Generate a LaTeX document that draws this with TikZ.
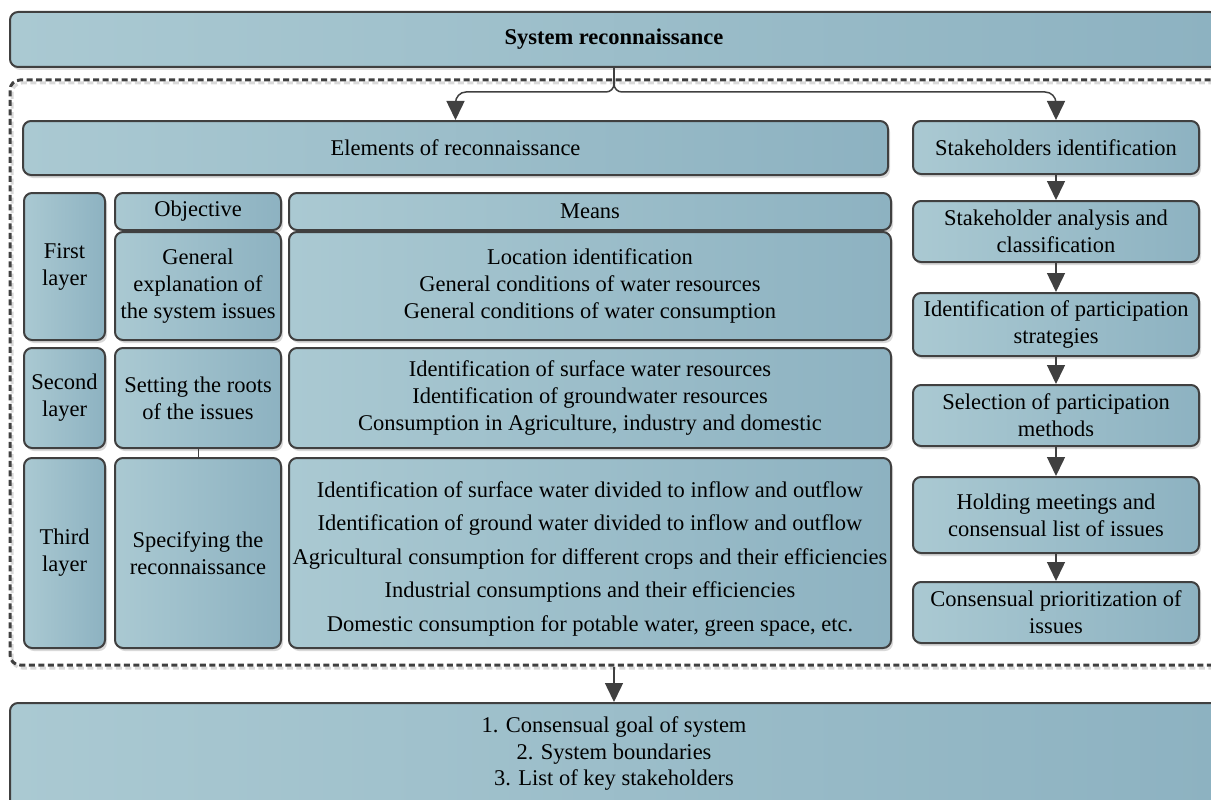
\documentclass[tikz,border=0pt]{standalone}
\usepackage{fontspec}
\setmainfont{Liberation Serif}
\usetikzlibrary{arrows.meta,shadows}
\definecolor{boxL}{RGB}{170,201,210}
\definecolor{boxR}{RGB}{141,178,193}
\definecolor{edgec}{RGB}{64,64,64}
\tikzset{
 box/.style={draw=edgec, line width=2pt, rounded corners=8pt, left color=boxL, right color=boxR,
   align=center, inner sep=0pt, font=\fontsize{22.5}{27}\selectfont,
   drop shadow={shadow xshift=2pt,shadow yshift=-3pt,fill=black!15,opacity=1}},
 arr/.style={draw=edgec, line width=1.5pt, -{Triangle[length=19pt,width=18pt]}},
 frm/.style={draw=edgec, line width=3pt, dash pattern=on 6pt off 3.5pt, rounded corners=10pt, inner sep=0pt},
 txt/.style={align=center, inner sep=0pt, font=\fontsize{22.5}{27}\selectfont},
}
\newcommand\bx[6]{\node[box, minimum width={(#4-#2)*1pt}, minimum height={(#5-#3)*1pt}] (#1) at ({(#2+#4)/2},{(#3+#5)/2}) {#6};}
\begin{document}
\begin{tikzpicture}[x=1pt,y=-1pt]
\useasboundingbox (0,0) rectangle (1211,800);
\clip (0,0) rectangle (1211,800);
% dashed frame with its shadow
\draw[black!15, line width=3pt, dash pattern=on 6pt off 3.5pt, rounded corners=10pt] (12,83) rectangle (1232,668);
\node[frm, minimum width=1220pt, minimum height=585pt] (frame) at (620,372.5) {};
\bx{top}{10}{12}{1218}{67}{\bfseries System reconnaissance}
\bx{elem}{23}{121}{888}{175}{Elements of reconnaissance}
\bx{s1}{913}{121}{1199}{174}{Stakeholders identification}
\bx{s2}{913}{201}{1199}{262}{Stakeholder analysis and\\classification}
\bx{s3}{913}{293}{1199}{356}{Identification of participation\\strategies}
\bx{s4}{913}{385}{1199}{446}{Selection of participation\\methods}
\bx{s5}{913}{477}{1199}{553}{Holding meetings and\\consensual list of issues}
\bx{s6}{913}{582}{1199}{643}{Consensual prioritization of\\issues}
\bx{l1}{24}{193}{105}{340}{First\\layer}
\bx{obj}{115}{193}{281}{230}{Objective}
\bx{means}{289}{193}{891}{230}{Means}
\bx{o1}{115}{232}{281}{340}{General\\explanation of\\the system issues}
\bx{m1}{289}{232}{891}{340}{Location identification\\General conditions of water resources\\General conditions of water consumption}
\bx{l2}{24}{348}{105}{448}{Second\\layer}
\bx{o2}{115}{348}{281}{448}{Setting the roots\\of the issues}
\bx{m2}{289}{348}{891}{448}{Identification of surface water resources\\Identification of groundwater resources\\Consumption in Agriculture, industry and domestic}
\bx{l3}{24}{458}{105}{648}{Third\\layer}
\bx{o3}{115}{458}{281}{648}{Specifying the\\reconnaissance}
\bx{m3}{289}{458}{891}{648}{}
\node[txt, font=\fontsize{22.5}{33.5}\selectfont] (m3t) at (590,559) {Identification of surface water divided to inflow and outflow\\Identification of ground water divided to inflow and outflow\\Agricultural consumption for different crops and their efficiencies\\Industrial consumptions and their efficiencies\\Domestic consumption for potable water, green space, etc.};
\bx{final}{10}{703}{1218}{830}{}
\node[txt, font=\fontsize{22.5}{26.5}\selectfont] (ftxt) at (614,754) {1. Consensual goal of system\\2. System boundaries\\3. List of key stakeholders};
% brace connector
\coordinate (split) at (614,84);
\draw[edgec, line width=1.5pt] (top.south) -- (split);
\draw[arr] (split) to[out=-90,in=0] (606,92) -- (466,92) to[out=180,in=90] (elem.north |- 0,103) -- (elem.north);
\draw[arr] (split) to[out=-90,in=180] (622,92) -- (1045,92) to[out=0,in=90] (s1.north |- 0,103) -- (s1.north);
% stakeholder chain
\draw[arr] (s1) -- (s2);
\draw[arr] (s2) -- (s3);
\draw[arr] (s3) -- (s4);
\draw[arr] (s4) -- (s5);
\draw[arr] (s5) -- (s6);
% link in objective column
\draw[edgec, line width=1pt] (o2.south) -- (o3.north);
% to the outcome
\draw[arr] (final.north |- frame.south) -- (final.north);
\end{tikzpicture}
\end{document}
